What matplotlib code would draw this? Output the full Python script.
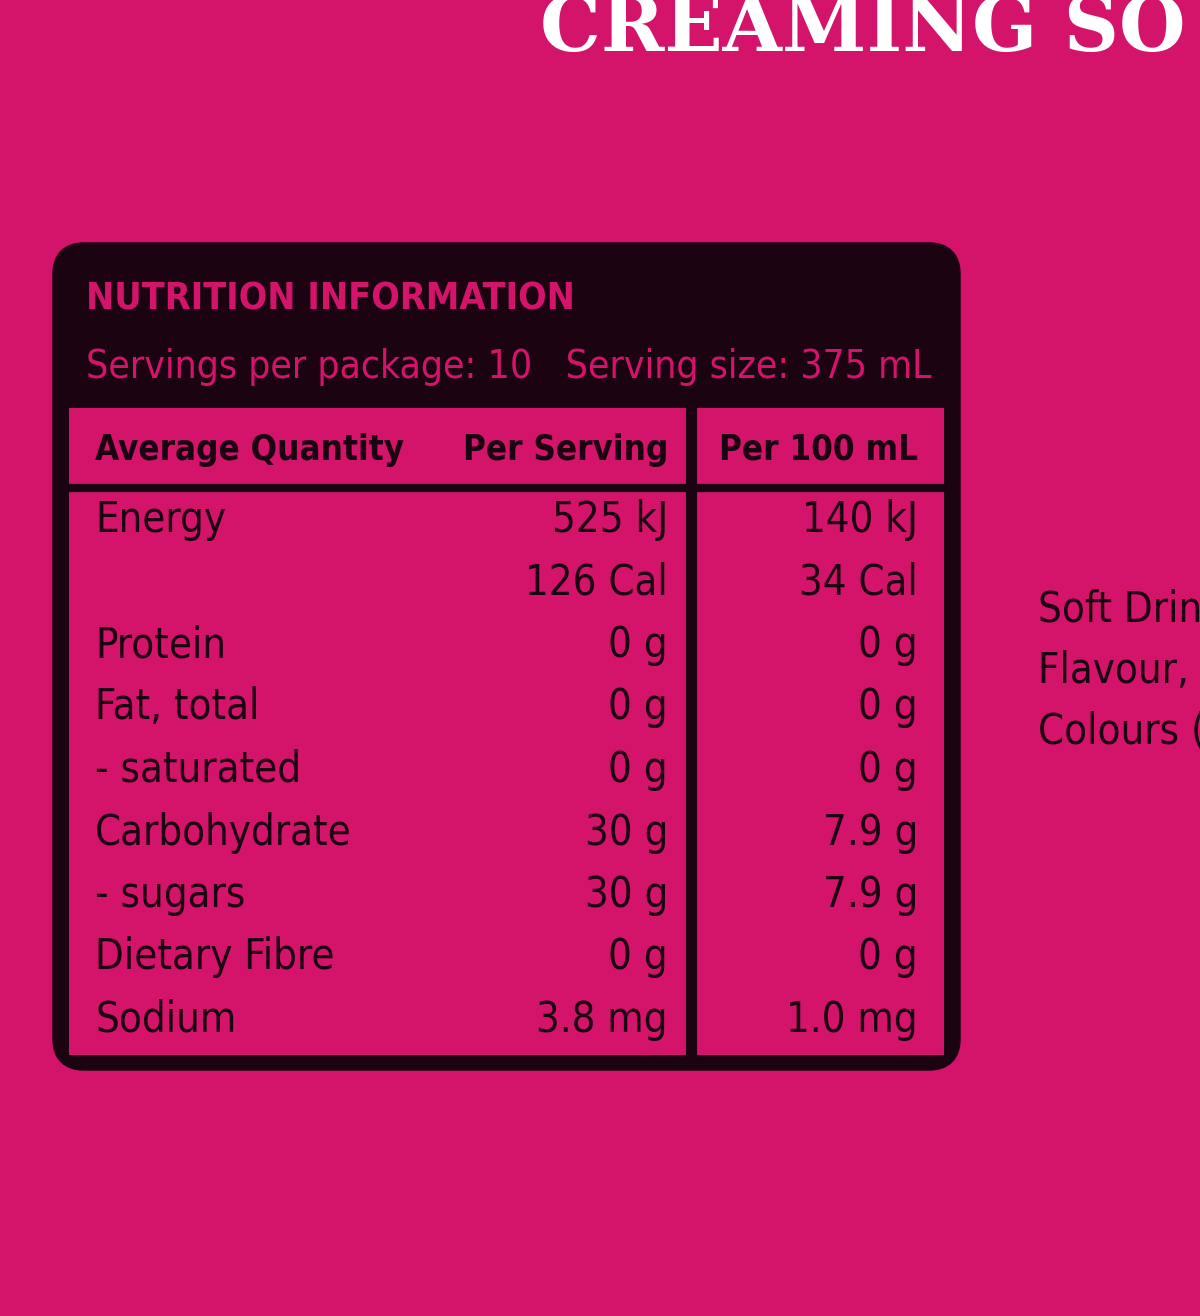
import matplotlib
matplotlib.use("Agg")
import matplotlib.pyplot as plt
from matplotlib.patches import FancyBboxPatch, Rectangle

PINK = "#D3146A"
DARK = "#1C0312"
FONT = ["DejaVu Sans Condensed", "Liberation Sans Narrow", "DejaVu Sans"]
ST = "condensed"

nutrients = ["Energy", "", "Protein", "Fat, total", "- saturated", "Carbohydrate",
             "- sugars", "Dietary Fibre", "Sodium"]
per_serving = ["525 kJ", "126 Cal", "0 g", "0 g", "0 g", "30 g", "30 g", "0 g", "3.8 mg"]
per_100ml = ["140 kJ", "34 Cal", "0 g", "0 g", "0 g", "7.9 g", "7.9 g", "0 g", "1.0 mg"]
side_text = ["Soft Drin", "Flavour, I", "Colours (1"]

fig = plt.figure(figsize=(12, 13.16), dpi=100, facecolor=PINK)
ax = fig.add_axes([0, 0, 1, 1])
ax.set_xlim(0, 1200)
ax.set_ylim(1316, 0)
ax.axis("off")

# brand title, cut off at the top right like the label
ax.text(540, 30, "CREAMING SO", family="DejaVu Serif", fontweight="bold",
        fontsize=55, color="white", va="center", ha="left", clip_on=True)

# outer rounded dark box + header band
ax.add_patch(FancyBboxPatch((62, 252), 889, 809, boxstyle="round,pad=0,rounding_size=22",
                            facecolor=DARK, edgecolor=DARK, lw=14))
ax.add_patch(Rectangle((69, 408), 875, 647, facecolor=PINK, edgecolor="none"))
ax.plot([62, 951], [488, 488], color=DARK, lw=6, solid_capstyle="butt")
ax.plot([691, 691], [405, 1060], color=DARK, lw=8, solid_capstyle="butt")

ax.text(86, 300, "NUTRITION INFORMATION", family=FONT, fontstretch=ST, fontweight="bold",
        fontsize=27, color=PINK, va="center")
ax.text(86, 367, "Servings per package: 10   Serving size: 375 mL", family=FONT,
        fontstretch=ST, fontsize=28, color=PINK, va="center")

ax.text(95, 450, "Average Quantity", family=FONT, fontstretch=ST, fontweight="bold",
        fontsize=25, color=DARK, va="center")
ax.text(668, 450, "Per Serving", family=FONT, fontstretch=ST, fontweight="bold", fontsize=25,
        color=DARK, va="center", ha="right")
ax.text(918, 450, "Per 100 mL", family=FONT, fontstretch=ST, fontweight="bold", fontsize=25,
        color=DARK, va="center", ha="right")

for i, (n, s, h) in enumerate(zip(nutrients, per_serving, per_100ml)):
    y = 520 + i * 62.5
    ax.text(95, y, n, family=FONT, fontstretch=ST, fontsize=30, color=DARK, va="center")
    ax.text(668, y, s, family=FONT, fontstretch=ST, fontsize=30, color=DARK, va="center", ha="right")
    ax.text(918, y, h, family=FONT, fontstretch=ST, fontsize=30, color=DARK, va="center", ha="right")

for i, t in enumerate(side_text):
    ax.text(1038, 610 + i * 61, t, family=FONT, fontstretch=ST, fontsize=30, color=DARK,
            va="center", clip_on=True)

fig.savefig("out.png", dpi=100, facecolor=PINK)
